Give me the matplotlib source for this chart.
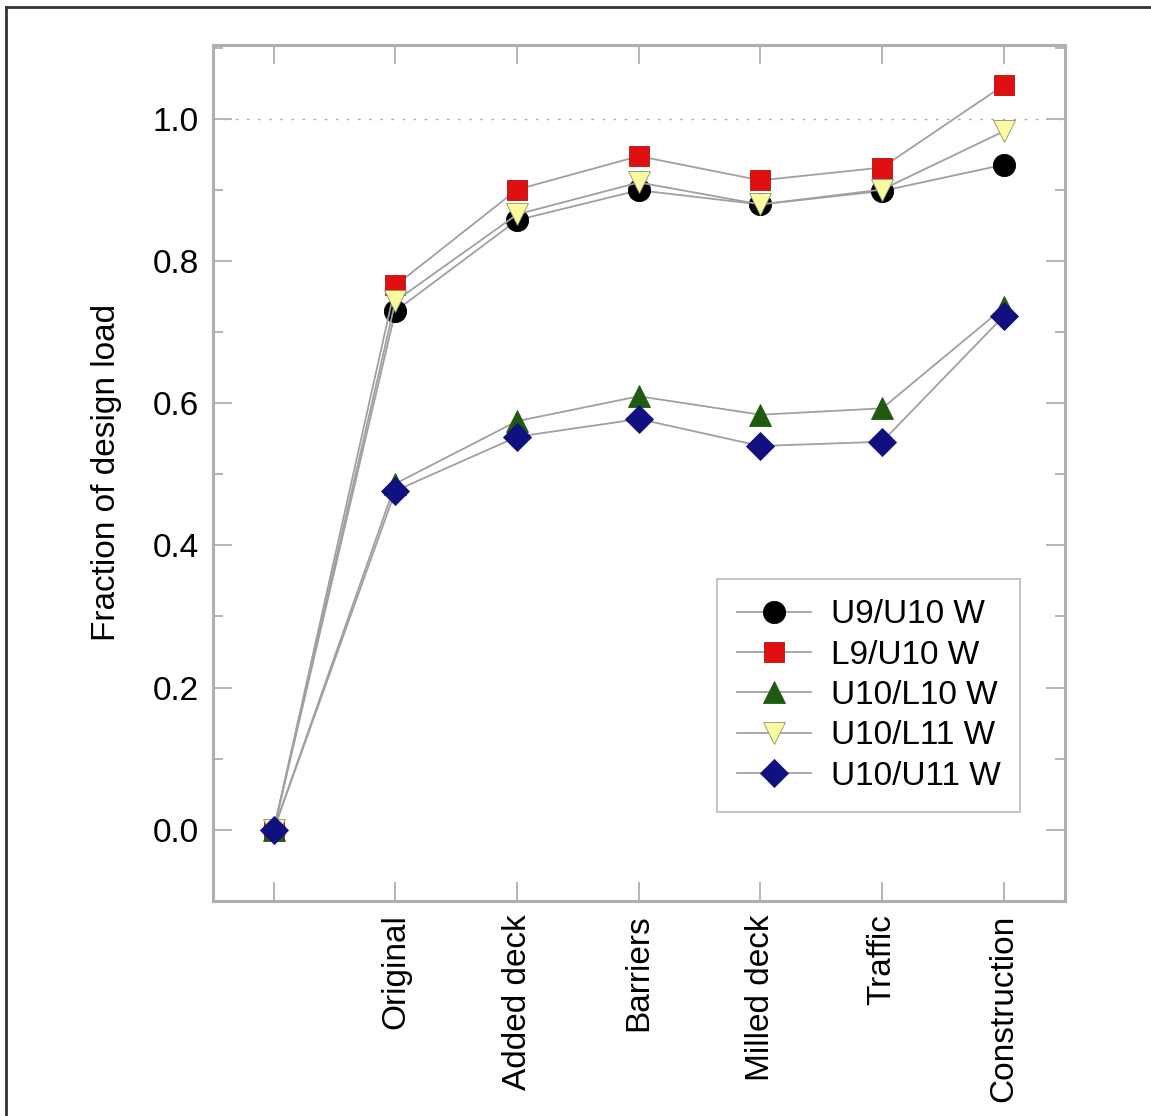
import matplotlib.pyplot as plt
from matplotlib.lines import Line2D
from matplotlib.ticker import MultipleLocator

plt.rcParams['font.family'] = ['Liberation Sans', 'DejaVu Sans']

# stages (first point is the unloaded start, no label)
stages = ["", "Original", "Added deck", "Barriers", "Milled deck", "Traffic", "Construction"]

u9_u10 = [0.0, 0.730, 0.858, 0.900, 0.880, 0.899, 0.936]
l9_u10 = [0.0, 0.766, 0.901, 0.948, 0.914, 0.932, 1.048]
u10_l10 = [0.0, 0.487, 0.575, 0.610, 0.584, 0.593, 0.735]
u10_l11 = [0.0, 0.744, 0.866, 0.911, 0.880, 0.901, 0.983]
u10_u11 = [0.0, 0.477, 0.553, 0.578, 0.540, 0.546, 0.723]

fig = plt.figure(figsize=(11.51, 11.16), dpi=100)
ax = fig.add_axes([0.185, 0.193, 0.740, 0.767])

x = list(range(len(stages)))
line_kw = dict(color="#a0a0a0", linewidth=1.3, markeredgewidth=0.6)

ax.plot(x, u9_u10, marker="o", markersize=16, markerfacecolor="black",
        markeredgecolor="black", label="U9/U10 W", **line_kw)
ax.plot(x, l9_u10, marker="s", markersize=15, markerfacecolor="#e01010",
        markeredgecolor="#b01010", label="L9/U10 W", **line_kw)
ax.plot(x, u10_l10, marker="^", markersize=16, markerfacecolor="#1e5a10",
        markeredgecolor="#1e5a10", label="U10/L10 W", **line_kw)
ax.plot(x, u10_l11, marker="v", markersize=16, markerfacecolor="#fafaa0",
        markeredgecolor="#909070", label="U10/L11 W", **line_kw)
ax.plot(x, u10_u11, marker="D", markersize=14, markerfacecolor="#101080",
        markeredgecolor="#101080", label="U10/U11 W", **line_kw)

# reference line at full design load
ax.axhline(1.0, color="#b0b0b0", linestyle=(0, (2, 6)), linewidth=1.0, zorder=0)

ax.set_xlim(-0.5, 6.5)
ax.set_xticks(x)
ax.set_xticklabels(stages, rotation=90, fontsize=24, va="top")
ax.yaxis.set_minor_locator(MultipleLocator(0.1))
ax.set_ylim(-0.1, 1.105)
ax.set_yticks([0.0, 0.2, 0.4, 0.6, 0.8, 1.0])
ax.set_yticklabels(["0.0", "0.2", "0.4", "0.6", "0.8", "1.0"], fontsize=24)

for s in ax.spines.values():
    s.set_color("#b0b0b0")
    s.set_linewidth(2.2)

ax.tick_params(axis="both", which="major", direction="in", length=14, width=1.3,
               color="#b0b0b0", top=True, right=True, pad=10)
ax.tick_params(axis="y", which="minor", direction="in", length=7, width=1.3,
               color="#b0b0b0", right=True)

ax.set_ylabel("Fraction of design load", fontsize=24, labelpad=22)

leg = ax.legend(loc="lower right", bbox_to_anchor=(0.948, 0.104), fontsize=24,
                frameon=True, fancybox=False, handlelength=2.2, borderpad=0.6,
                labelspacing=0.28, handletextpad=0.6, borderaxespad=0)
leg.get_frame().set_edgecolor("#b0b0b0")
leg.get_frame().set_linewidth(1.3)

# outer frame of the figure (left and top edges visible)
fig.add_artist(Line2D([0.005, 0.005], [0.0, 0.994], transform=fig.transFigure,
                      color="#333333", linewidth=2))
fig.add_artist(Line2D([0.005, 1.0], [0.994, 0.994], transform=fig.transFigure,
                      color="#333333", linewidth=2))

fig.savefig("out.png", dpi=100)
